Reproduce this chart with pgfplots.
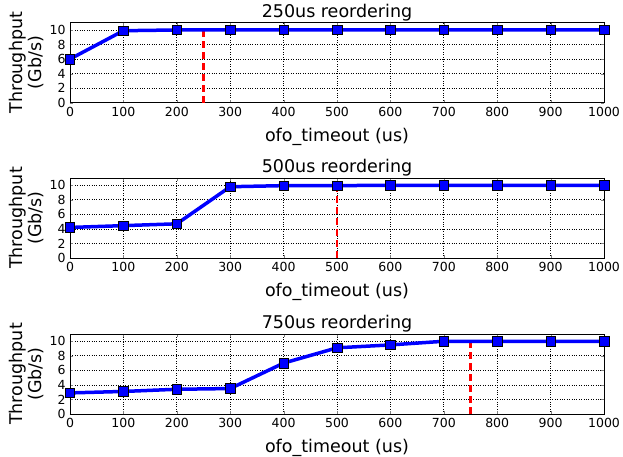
\documentclass[border=0pt]{standalone}
\usepackage{fontspec}
\setmainfont{DejaVu Sans}
\usepackage{pgfplots}
\pgfplotsset{compat=1.18}
\pgfplotsset{
  myax/.style={
    scale only axis, width=534pt, height=80pt,
    xmin=0, xmax=1000, ymin=0, ymax=11,
    xtick={0,100,...,1000}, ytick={0,2,...,10},
    /pgf/number format/assume math mode=true,
    /pgf/number format/1000 sep={},
    tick label style={font=\fontsize{12.5}{14}\selectfont},
    label style={font=\fontsize{17.5}{19}\selectfont},
    title style={font=\fontsize{17.5}{19}\selectfont, at={(axis description cs:0.5,1.124)}, anchor=center, yshift=-6pt},
    xlabel={ofo\_timeout (us)},
    ylabel={Throughput\\(Gb/s)},
    xlabel style={at={(axis description cs:0.5,-0.43)}, anchor=center},
    ylabel style={at={(axis description cs:-0.082,0.5)}, anchor=center, align=center},
    grid=major,
    major grid style={black, dotted, line width=0.8pt},
    tick align=inside,
    major tick length=3pt,
    axis line style={line width=0.9pt},
    xticklabel style={yshift=-1pt},
    yticklabel style={xshift=-1pt},
  },
  blueline/.style={blue, line width=3.5pt, mark=square*, mark size=4.8pt,
    mark options={fill=blue, draw=black, line width=0.6pt}},
  redline/.style={red, line width=2.8pt, dash pattern=on 7pt off 4pt}
}
\begin{document}
\begin{tikzpicture}
\useasboundingbox (-70pt,-354.3pt) rectangle (553pt,102.7pt);
\begin{axis}[myax, at={(0pt,0pt)}, anchor=south west, title={250us reordering}]
\addplot[redline] coordinates {(250,0) (250,10)};
\addplot[blueline] coordinates {(0,6.0) (100,9.9) (200,10) (300,10) (400,10) (500,10) (600,10) (700,10) (800,10) (900,10) (1000,10)};
\end{axis}
\begin{axis}[myax, at={(0pt,-155.3pt)}, anchor=south west, title={500us reordering}]
\addplot[redline] coordinates {(500,0) (500,10)};
\addplot[blueline] coordinates {(0,4.2) (100,4.45) (200,4.7) (300,9.8) (400,9.95) (500,9.95) (600,10) (700,10) (800,10) (900,10) (1000,10)};
\end{axis}
\begin{axis}[myax, at={(0pt,-311.3pt)}, anchor=south west, title={750us reordering}]
\addplot[redline] coordinates {(750,0) (750,10)};
\addplot[blueline] coordinates {(0,2.9) (100,3.1) (200,3.4) (300,3.5) (400,7.0) (500,9.1) (600,9.5) (700,10) (800,10) (900,10) (1000,10)};
\end{axis}
\end{tikzpicture}
\end{document}
